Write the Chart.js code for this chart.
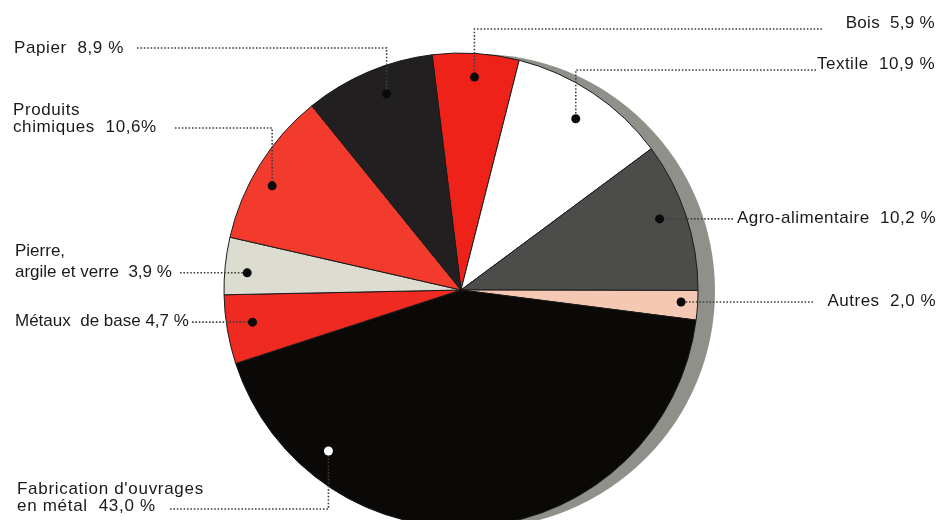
<!DOCTYPE html>
<html lang="fr">
<head>
<meta charset="utf-8">
<script src="https://cdn.jsdelivr.net/npm/chart.js@4.4.1/dist/chart.umd.min.js"></script>
<style>
    html, body { margin: 0; padding: 0; background: #fff; overflow: hidden; }
    #wrap { width: 941px; height: 540px; }
</style>
</head>
<body>
<div id="wrap"><canvas id="industry-pie" width="941" height="540"></canvas></div>
<script>
// data, clockwise from the top
const sectors = ['Bois', 'Textile', 'Agro-alimentaire', 'Autres', "Fabrication d'ouvrages en métal",
    'Métaux de base', 'Pierre, argile et verre', 'Produits chimiques', 'Papier'];
const shares = [5.9, 10.9, 10.2, 2.0, 43.0, 4.7, 3.9, 10.6, 8.9];
const shareLabels = ['5,9 %', '10,9 %', '10,2 %', '2,0 %', '43,0 %', '4,7 %', '3,9 %', '10,6%', '8,9 %'];
const nameLines = [
    ['Bois'], ['Textile'], ['Agro-alimentaire'], ['Autres'],
    ["Fabrication d'ouvrages", 'en métal'], ['Métaux  de base'],
    ['Pierre,', 'argile et verre'], ['Produits', 'chimiques'], ['Papier']
];
const sliceColors = ['#ef2219', '#ffffff', '#4c4c4a', '#f4c8b3', '#0b0907',
    '#ee2a21', '#dcdcd1', '#f23b2c', '#211f1f'];

document.addEventListener('DOMContentLoaded', function() {
    // where each callout sits: position inside the slice and label placement
    const callouts = [
        { at: 0.5, r: 0.9, align: 'right', tx: 935, ty: 23, lx: 822, ly: 29, ls: 0.3 },
        { at: 0.5, r: 0.87, align: 'right', tx: 935, ty: 64, lx: 816, ly: 70 },
        { at: 0.46, r: 0.89, align: 'right', tx: 936, lx: 733 },
        { at: 0.42, r: 0.93, align: 'right', tx: 936, lx: 813 },
        { at: 0.79, r: 0.88, align: 'left', tx: 17, ty: 506, lx: 170, ly: 509, dot: '#ffffff', lh: 17, ls: 0.7 },
        { at: 0.55, r: 0.89, align: 'left', tx: 15, lx: 192, ls: 0, gap: ' ' },
        { at: 0.41, r: 0.905, align: 'left', tx: 15, lx: 180, lh: 21, ls: 0 },
        { at: 0.42, r: 0.91, align: 'left', tx: 13, ty: 127, lx: 175, ly: 128, lh: 17, ls: 0.6 },
        { at: 0.57, r: 0.885, align: 'left', tx: 14, ty: 48, lx: 137, ly: 48, ls: 0.6 }
    ];

    // grey shadow behind the pie
    const shadowPlugin = {
        id: 'pieShadow',
        beforeDatasetsDraw(chart) {
            const arc = chart.getDatasetMeta(0).data[0];
            if (!arc) return;
            const ctx = chart.ctx;
            ctx.save();
            ctx.fillStyle = '#8e9089';
            ctx.beginPath();
            ctx.arc(arc.x + 17, arc.y + 1, arc.outerRadius, 0, Math.PI * 2);
            ctx.fill();
            ctx.restore();
        }
    };

    // dotted leaders, dots and labels
    const calloutPlugin = {
        id: 'callouts',
        afterDatasetsDraw(chart) {
            const ctx = chart.ctx;
            const arcs = chart.getDatasetMeta(0).data;
            ctx.save();
            ctx.font = '17px "Liberation Sans", Arial, sans-serif';
            ctx.textBaseline = 'middle';
            arcs.forEach((arc, i) => {
                const c = callouts[i];
                const p = arc.getProps(['x', 'y', 'startAngle', 'endAngle', 'outerRadius'], true);
                const a = p.startAngle + c.at * (p.endAngle - p.startAngle);
                const dx = p.x + Math.cos(a) * p.outerRadius * c.r;
                const dy = p.y + Math.sin(a) * p.outerRadius * c.r;
                const ly = c.ly !== undefined ? c.ly : dy;
                const ty = c.ty !== undefined ? c.ty : dy - 1;

                // leader line
                ctx.strokeStyle = '#404040';
                ctx.lineWidth = 1.6;
                ctx.setLineDash([1.6, 1.8]);
                ctx.beginPath();
                ctx.moveTo(c.lx, ly);
                ctx.lineTo(dx, ly);
                ctx.lineTo(dx, dy);
                ctx.stroke();
                ctx.setLineDash([]);

                // dot
                ctx.fillStyle = c.dot || '#0a0a0a';
                ctx.beginPath();
                ctx.arc(dx, dy, 4.5, 0, Math.PI * 2);
                ctx.fill();

                // label text
                const lines = nameLines[i].slice();
                lines[lines.length - 1] += (c.gap !== undefined ? c.gap : '  ') + shareLabels[i];
                const lh = c.lh || 18;
                ctx.letterSpacing = (c.ls !== undefined ? c.ls : 0.5) + 'px';
                ctx.fillStyle = '#1a1a1a';
                ctx.textAlign = c.align;
                lines.forEach((t, k) => {
                    ctx.fillText(t, c.tx, ty - (lines.length - 1 - k) * lh);
                });
            });
            ctx.restore();
        }
    };

    const pieCtx = document.getElementById('industry-pie');
    new Chart(pieCtx, {
        type: 'pie',
        data: {
            labels: sectors,
            datasets: [{
                data: shares,
                backgroundColor: sliceColors,
                borderColor: '#1a1a1a',
                borderWidth: 1,
                radius: 237
            }]
        },
        options: {
            responsive: false,
            animation: false,
            events: [],
            rotation: -7,
            layout: { padding: { top: 53, bottom: 13, left: 0, right: 19 } },
            plugins: {
                legend: { display: false },
                tooltip: { enabled: false }
            }
        },
        plugins: [shadowPlugin, calloutPlugin]
    });
});
</script>
</body>
</html>
